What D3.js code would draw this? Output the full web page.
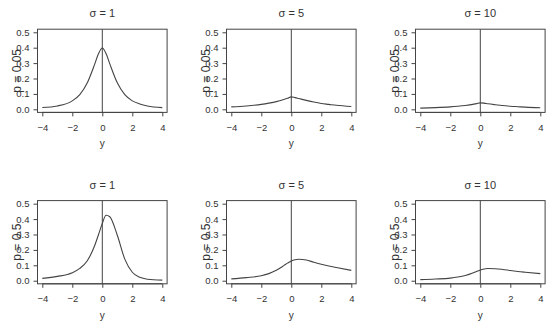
<!DOCTYPE html>
<html>
<head>
<meta charset="utf-8">
<script src="https://cdn.jsdelivr.net/npm/d3@7"></script>
<style>
  body { margin: 0; background: #fff; }
  svg { display: block; font-family: "Liberation Sans", Arial, sans-serif; }
</style>
</head>
<body>
<svg id="chart" width="550" height="327"></svg>
<script>
// grid of y values shared by all panels
const yGrid = [-4, -3, -2, -1.5, -1, -0.5, -0.25, 0, 0.25, 0.5, 1, 1.5, 2, 2.5, 3, 4];

// densities, one array per panel
const densP005S1 = [0.012, 0.022, 0.055, 0.095, 0.172, 0.295, 0.362, 0.398, 0.362, 0.295, 0.172, 0.095, 0.055, 0.035, 0.022, 0.011];
const densP005S5 = [0.016, 0.022, 0.032, 0.040, 0.050, 0.064, 0.072, 0.081, 0.076, 0.070, 0.058, 0.047, 0.038, 0.032, 0.026, 0.018];
const densP005S10 = [0.008, 0.011, 0.016, 0.020, 0.025, 0.032, 0.037, 0.042, 0.040, 0.036, 0.030, 0.025, 0.020, 0.017, 0.014, 0.010];
const densP05S1 = [0.015, 0.028, 0.052, 0.080, 0.130, 0.230, 0.300, 0.372, 0.425, 0.415, 0.295, 0.140, 0.055, 0.022, 0.010, 0.004];
const densP05S5 = [0.012, 0.020, 0.032, 0.046, 0.068, 0.098, 0.114, 0.128, 0.136, 0.139, 0.134, 0.120, 0.107, 0.096, 0.086, 0.067];
const densP05S10 = [0.007, 0.011, 0.017, 0.024, 0.034, 0.050, 0.060, 0.070, 0.076, 0.079, 0.078, 0.073, 0.066, 0.060, 0.055, 0.046];

const sigmaLabels = ["σ = 1", "σ = 5", "σ = 10"];
const pLabels = ["p = 0.05", "p = 0.5"];
const xTicks = [-4, -2, 0, 2, 4];
const yTicks = [0, 0.1, 0.2, 0.3, 0.4, 0.5];

const panels = [
  [densP005S1, densP005S5, densP005S10],
  [densP05S1, densP05S5, densP05S10],
];

const svg = d3.select("#chart");
const textColor = "#333";
const lineColor = "#444";

// panel geometry (R style: 4% padding around the data range)
const boxLeft = 37.5;
const boxTop = 29.2;
const boxW = 129.6;
const boxH = 83.2;
const colStep = 189;
const rowStep = 171.4;

const x = d3.scaleLinear().domain([-4.32, 4.32]).range([0, boxW]);
const y = d3.scaleLinear().domain([-0.02, 0.52]).range([boxH, 0]);

const line = d3
  .line()
  .x((d) => x(d[0]))
  .y((d) => y(d[1]))
  .curve(d3.curveMonotoneX);

panels.forEach((row, r) => {
  row.forEach((dens, c) => {
    const g = svg
      .append("g")
      .attr("transform", `translate(${boxLeft + c * colStep},${boxTop + r * rowStep})`);

    // title
    g.append("text")
      .attr("x", boxW / 2)
      .attr("y", -12)
      .attr("text-anchor", "middle")
      .style("font-size", "11px")
      .style("fill", textColor)
      .text(sigmaLabels[c]);

    // x axis
    const xAxis = g
      .append("g")
      .attr("transform", `translate(0,${boxH})`)
      .call(d3.axisBottom(x).tickValues(xTicks).tickSize(4).tickSizeOuter(0).tickFormat((d) => (d < 0 ? "−" + Math.abs(d) : d)));
    xAxis.select(".domain").attr("d", `M${x(-4)},0H${x(4)}`).attr("stroke", lineColor);
    xAxis.selectAll(".tick line").attr("stroke", lineColor);
    xAxis.selectAll(".tick text").attr("y", 11.5).style("font-size", "9.5px").style("fill", textColor);

    // y axis
    const yAxis = g
      .append("g")
      .call(d3.axisLeft(y).tickValues(yTicks).tickSize(4).tickSizeOuter(0).tickFormat(d3.format(".1f")));
    yAxis.select(".domain").attr("d", `M0,${y(0)}V${y(0.5)}`).attr("stroke", lineColor);
    yAxis.selectAll(".tick line").attr("stroke", lineColor);
    yAxis.selectAll(".tick text").attr("x", -8).style("font-size", "9.5px").style("fill", textColor);

    // axis labels
    g.append("text")
      .attr("x", boxW / 2)
      .attr("y", boxH + 35)
      .attr("text-anchor", "middle")
      .style("font-size", "10px")
      .style("fill", textColor)
      .text("y");
    g.append("text")
      .attr("transform", `translate(-17,${boxH / 2}) rotate(-90)`)
      .attr("text-anchor", "middle")
      .style("font-size", "12px")
      .style("fill", textColor)
      .text(pLabels[r]);

    // box
    g.append("rect")
      .attr("width", boxW)
      .attr("height", boxH)
      .attr("fill", "none")
      .attr("stroke", lineColor)
      .attr("stroke-width", 1);

    // vertical line at zero
    g.append("line")
      .attr("x1", x(0))
      .attr("x2", x(0))
      .attr("y1", 0)
      .attr("y2", boxH)
      .attr("stroke", lineColor);

    // density curve
    g.append("path")
      .datum(yGrid.map((v, i) => [v, dens[i]]))
      .attr("d", line)
      .attr("fill", "none")
      .attr("stroke", lineColor)
      .attr("stroke-width", 1.1);
  });
});
</script>
</body>
</html>
